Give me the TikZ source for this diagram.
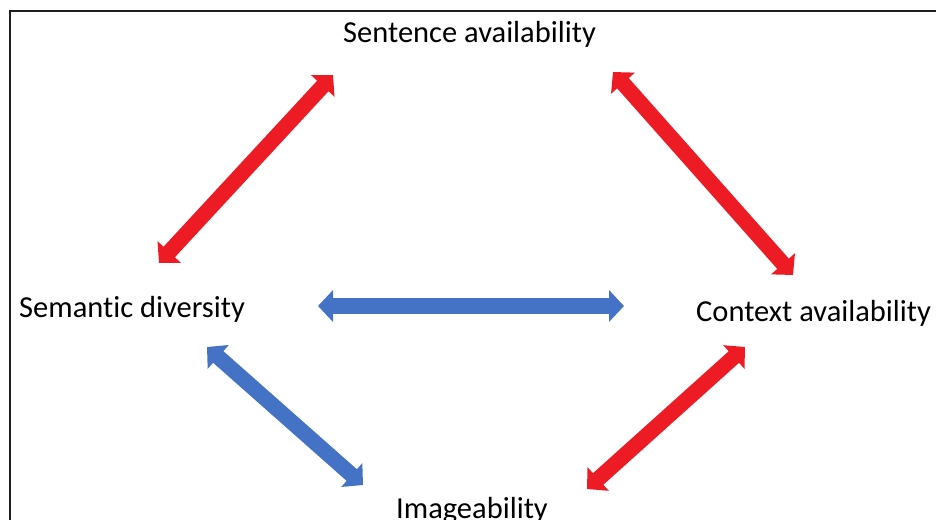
\documentclass[tikz,border=0pt]{standalone}
\usepackage{fontspec}
\setmainfont{Carlito}[Ligatures={NoCommon},Contextuals={NoAlternate},RawFeature={-liga;-clig;-calt;-dlig}]
\usetikzlibrary{arrows.meta}
\definecolor{arrred}{RGB}{237,28,36}
\definecolor{arrblue}{RGB}{68,114,196}
\tikzset{
  lbl/.style={anchor=base west,inner sep=0pt,font=\fontsize{30.5}{36}\selectfont},
  dblarrow/.style={line width=15.5pt,{Triangle[width=31pt,length=15pt]}-{Triangle[width=31pt,length=15pt]}}
}
\begin{document}
\begin{tikzpicture}[x=1pt,y=1pt,yscale=-1,xscale=1]
        \clip (0,0) rectangle (936,519);
        %Shape: Frame
        \draw [line width=1.4pt,color={rgb,255:red,30;green,30;blue,30}] (10,11) rectangle (980,560);

        % Text Node
        \node (sent) [lbl] at (343,43) {Sentence availability};
        % Text Node
        \node (sem) [lbl] at (19,317) {Semantic diversity};
        % Text Node
        \node (ctx) [lbl] at (696,321) {Context availability};
        % Text Node
        \node (img) [lbl] at (396,518) {Imageability};

        %Ends of the arrows
        \coordinate (semtop) at (159,263);
        \coordinate (sentleft) at (333,75);
        \coordinate (sentright) at (613,72);
        \coordinate (ctxtop) at (793,275);
        \coordinate (semright) at (318,306);
        \coordinate (ctxleft) at (624,306);
        \coordinate (sembot) at (207,347);
        \coordinate (imgleft) at (363,485);
        \coordinate (imgright) at (587,489);
        \coordinate (ctxbot) at (745,347);

        %Shape: Double Arrow
        \draw [dblarrow,arrred] (semtop) -- (sentleft);
        %Shape: Double Arrow
        \draw [dblarrow,arrred] (sentright) -- (ctxtop);
        %Shape: Double Arrow
        \draw [dblarrow,arrblue] (semright) -- (ctxleft);
        %Shape: Double Arrow
        \draw [dblarrow,arrblue] (sembot) -- (imgleft);
        %Shape: Double Arrow
        \draw [dblarrow,arrred] (imgright) -- (ctxbot);

\end{tikzpicture}
\end{document}
